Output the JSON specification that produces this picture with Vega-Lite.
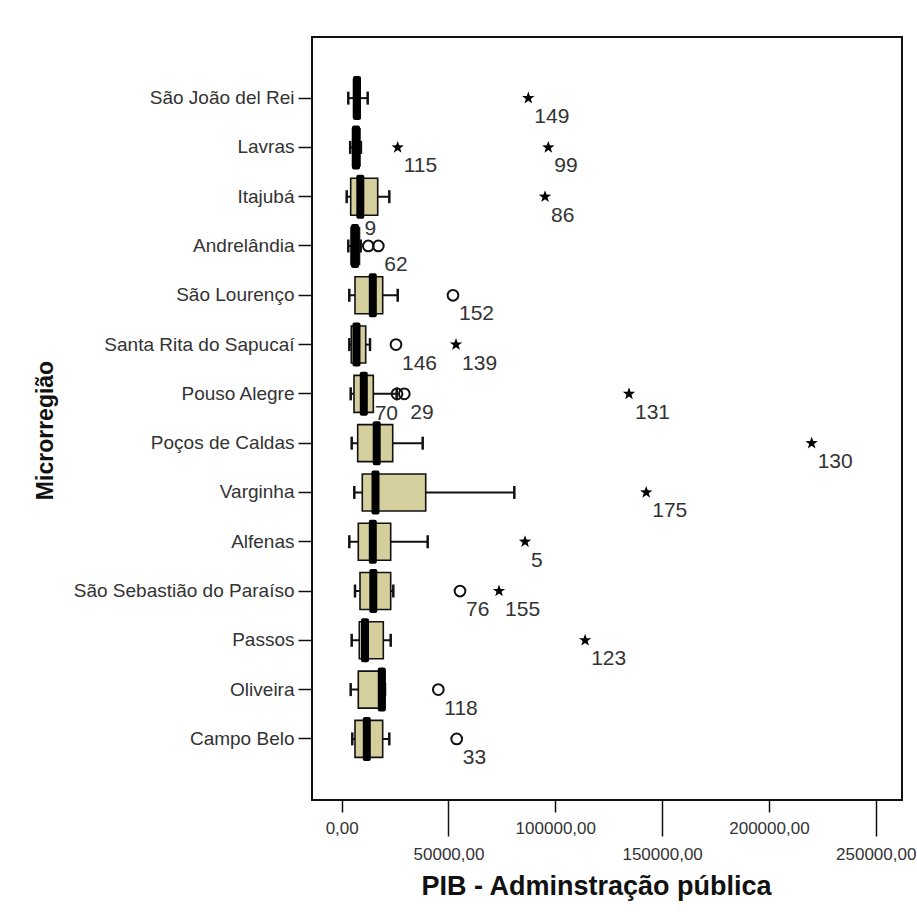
{
  "$schema": "https://vega.github.io/schema/vega-lite/v6.json",
  "width": 590,
  "height": 763,
  "autosize": {"type": "none"},
  "padding": {"left": 312, "top": 37, "right": 15, "bottom": 112},
  "background": "white",
  "config": {
    "font": "Liberation Sans",
    "view": {"stroke": "#111111", "strokeWidth": 2},
    "axis": {"domain": false, "grid": false, "tickColor": "#111111", "tickWidth": 1.5, "labelColor": "#333333", "titleColor": "#111111", "titleFontWeight": "bold"}
  },
  "datasets": {
    "boxes": [
      {"region": "São João del Rei", "min": 3090, "q1": 5530, "median": 7160, "q3": 8570, "max": 12170},
      {"region": "Lavras", "min": 3980, "q1": 5060, "median": 6700, "q3": 8570, "max": 9000},
      {"region": "Itajubá", "min": 2340, "q1": 4210, "median": 8710, "q3": 16860, "max": 22290},
      {"region": "Andrelândia", "min": 3090, "q1": 4350, "median": 6230, "q3": 8330, "max": 8900},
      {"region": "São Lourenço", "min": 3560, "q1": 6230, "median": 14560, "q3": 19190, "max": 26220},
      {"region": "Santa Rita do Sapucaí", "min": 3560, "q1": 4490, "median": 6930, "q3": 11240, "max": 13250},
      {"region": "Pouso Alegre", "min": 4210, "q1": 5760, "median": 10350, "q3": 14800, "max": 25750},
      {"region": "Poços de Caldas", "min": 4680, "q1": 7490, "median": 16390, "q3": 23880, "max": 37920},
      {"region": "Varginha", "min": 5900, "q1": 9640, "median": 15830, "q3": 39330, "max": 80810},
      {"region": "Alfenas", "min": 3560, "q1": 7770, "median": 14560, "q3": 22940, "max": 40260},
      {"region": "São Sebastião do Paraíso", "min": 6230, "q1": 8570, "median": 14800, "q3": 22940, "max": 24160},
      {"region": "Passos", "min": 4680, "q1": 8240, "median": 10910, "q3": 19480, "max": 22940},
      {"region": "Oliveira", "min": 4210, "q1": 7770, "median": 18770, "q3": 20270, "max": 20270},
      {"region": "Campo Belo", "min": 4960, "q1": 6230, "median": 11750, "q3": 19190, "max": 22290}
    ],
    "outliers": [
      {"region": "São João del Rei", "id": 149, "value": 87370, "kind": "extreme"},
      {"region": "Lavras", "id": 115, "value": 26220, "kind": "extreme"},
      {"region": "Lavras", "id": 99, "value": 96730, "kind": "extreme"},
      {"region": "Itajubá", "id": 86, "value": 95190, "kind": "extreme"},
      {"region": "Andrelândia", "id": 9, "value": 12450, "kind": "outlier"},
      {"region": "Andrelândia", "id": 62, "value": 17140, "kind": "outlier"},
      {"region": "São Lourenço", "id": 152, "value": 52110, "kind": "outlier"},
      {"region": "Santa Rita do Sapucaí", "id": 146, "value": 25420, "kind": "outlier"},
      {"region": "Santa Rita do Sapucaí", "id": 139, "value": 53520, "kind": "extreme"},
      {"region": "Pouso Alegre", "id": 70, "value": 25900, "kind": "outlier"},
      {"region": "Pouso Alegre", "id": 29, "value": 29310, "kind": "outlier"},
      {"region": "Pouso Alegre", "id": 131, "value": 134500, "kind": "extreme"},
      {"region": "Poços de Caldas", "id": 130, "value": 220000, "kind": "extreme"},
      {"region": "Varginha", "id": 175, "value": 142570, "kind": "extreme"},
      {"region": "Alfenas", "id": 5, "value": 85820, "kind": "extreme"},
      {"region": "São Sebastião do Paraíso", "id": 76, "value": 55390, "kind": "outlier"},
      {"region": "São Sebastião do Paraíso", "id": 155, "value": 73650, "kind": "extreme"},
      {"region": "Passos", "id": 123, "value": 113960, "kind": "extreme"},
      {"region": "Oliveira", "id": 118, "value": 45230, "kind": "outlier"},
      {"region": "Campo Belo", "id": 33, "value": 53840, "kind": "outlier"}
    ]
  },
  "encoding": {
    "y": {
      "field": "region",
      "type": "nominal",
      "title": "Microrregião",
      "scale": {
        "domain": ["São João del Rei", "Lavras", "Itajubá", "Andrelândia", "São Lourenço", "Santa Rita do Sapucaí", "Pouso Alegre", "Poços de Caldas", "Varginha", "Alfenas", "São Sebastião do Paraíso", "Passos", "Oliveira", "Campo Belo"],
        "paddingInner": 0.5,
        "paddingOuter": 0.99
      },
      "axis": {
        "orient": "left",
        "labelFontSize": 19,
        "labelLimit": 400,
        "tickSize": 14,
        "labelPadding": 4,
        "titleFontSize": 23,
        "titleX": -267,
        "titleY": 393,
        "titleBaseline": "middle",
        "titleAlign": "center",
        "titleAngle": -90
      }
    }
  },
  "layer": [
    {
      "data": {"name": "boxes"},
      "mark": {"type": "rule", "color": "#111111", "strokeWidth": 2},
      "encoding": {
        "x": {
          "field": "min",
          "type": "quantitative",
          "title": "PIB - Adminstração pública",
          "scale": {"domain": [-13900, 262300], "nice": false, "zero": false},
          "axis": {
            "orient": "bottom",
            "values": [0, 50000, 100000, 150000, 200000, 250000],
            "labelExpr": "format(datum.value, 'd') + ',00'",
            "labelFontSize": 17,
            "labelBaseline": "top",
            "tickSize": {"condition": {"test": "datum.value % 100000 != 0", "value": 36}, "value": 12},
            "labelPadding": {"condition": {"test": "datum.value % 100000 != 0", "value": 10}, "value": 8},
            "titleFontSize": 27,
            "titleX": 284,
            "titleY": 86,
            "titleBaseline": "middle",
            "titleAlign": "center"
          }
        },
        "x2": {"field": "max"}
      }
    },
    {
      "data": {"name": "boxes"},
      "mark": {"type": "tick", "color": "#111111", "size": 13, "thickness": 2.5, "opacity": 1},
      "encoding": {"x": {"field": "min", "type": "quantitative", "title": "PIB - Adminstração pública"}}
    },
    {
      "data": {"name": "boxes"},
      "mark": {"type": "tick", "color": "#111111", "size": 13, "thickness": 2.5, "opacity": 1},
      "encoding": {"x": {"field": "max", "type": "quantitative", "title": "PIB - Adminstração pública"}}
    },
    {
      "data": {"name": "boxes"},
      "mark": {"type": "bar", "size": 37, "fill": "#d5cf9d", "stroke": "#111111", "strokeWidth": 1.6, "opacity": 1},
      "encoding": {
        "x": {"field": "q1", "type": "quantitative", "title": "PIB - Adminstração pública"},
        "x2": {"field": "q3"}
      }
    },
    {
      "data": {"name": "boxes"},
      "mark": {"type": "tick", "color": "#000000", "size": 44, "thickness": 8, "cornerRadius": 2, "opacity": 1},
      "encoding": {"x": {"field": "median", "type": "quantitative", "title": "PIB - Adminstração pública"}}
    },
    {
      "data": {"name": "outliers"},
      "transform": [{"filter": "datum.kind == 'outlier'"}],
      "mark": {"type": "point", "shape": "circle", "filled": false, "size": 115, "strokeWidth": 2, "color": "#111111", "opacity": 1},
      "encoding": {"x": {"field": "value", "type": "quantitative", "title": "PIB - Adminstração pública"}}
    },
    {
      "data": {"name": "outliers"},
      "transform": [{"filter": "datum.kind == 'extreme'"}],
      "mark": {
        "type": "point",
        "shape": "M0,-1L0.235,-0.324L0.951,-0.309L0.38,0.124L0.588,0.809L0,0.4L-0.588,0.809L-0.38,0.124L-0.951,-0.309L-0.235,-0.324Z",
        "filled": true,
        "size": 170,
        "color": "#000000",
        "opacity": 1
      },
      "encoding": {"x": {"field": "value", "type": "quantitative", "title": "PIB - Adminstração pública"}}
    },
    {
      "data": {"name": "outliers"},
      "transform": [{"filter": "datum.id != 9 && datum.id != 70"}],
      "mark": {"type": "text", "align": "left", "baseline": "middle", "dx": 6, "dy": 19, "fontSize": 21, "color": "#333333"},
      "encoding": {
        "x": {"field": "value", "type": "quantitative", "title": "PIB - Adminstração pública"},
        "text": {"field": "id", "type": "nominal"}
      }
    },
    {
      "data": {"name": "outliers"},
      "transform": [{"filter": "datum.id == 9"}],
      "mark": {"type": "text", "align": "center", "baseline": "middle", "dx": 2, "dy": -17, "fontSize": 21, "color": "#333333"},
      "encoding": {
        "x": {"field": "value", "type": "quantitative", "title": "PIB - Adminstração pública"},
        "text": {"field": "id", "type": "nominal"}
      }
    },
    {
      "data": {"name": "outliers"},
      "transform": [{"filter": "datum.id == 70"}],
      "mark": {"type": "text", "align": "right", "baseline": "middle", "dx": 1, "dy": 20, "fontSize": 21, "color": "#333333"},
      "encoding": {
        "x": {"field": "value", "type": "quantitative", "title": "PIB - Adminstração pública"},
        "text": {"field": "id", "type": "nominal"}
      }
    }
  ]
}
